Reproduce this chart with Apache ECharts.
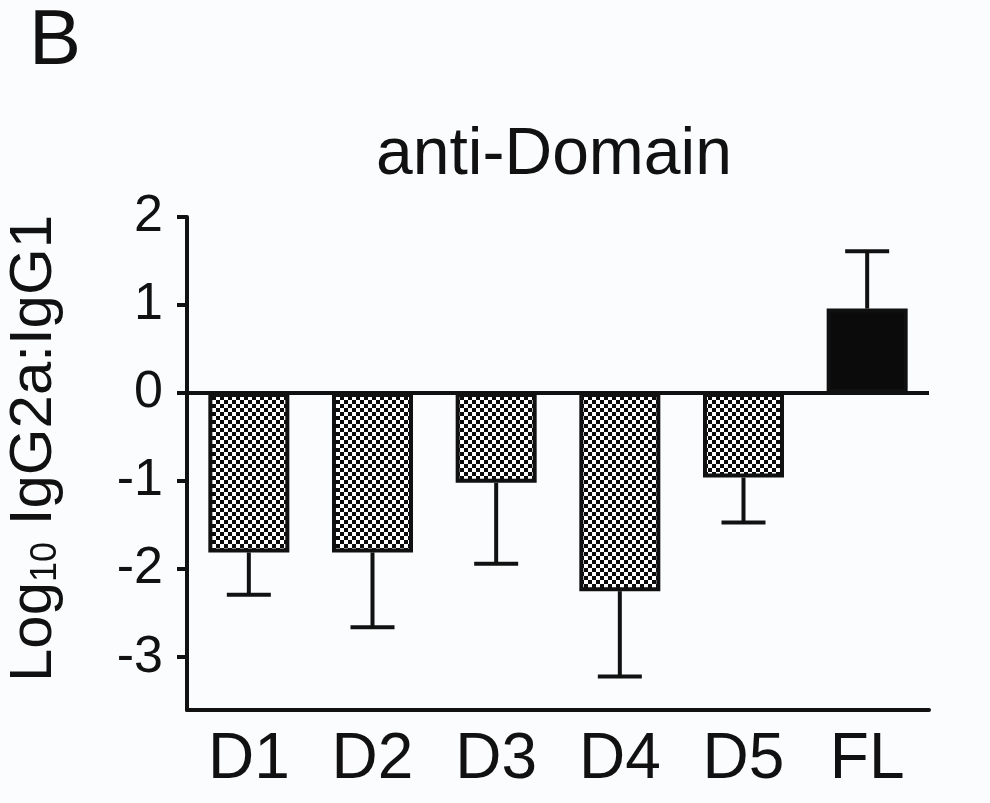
<!DOCTYPE html>
<html>
<head>
<meta charset="utf-8">
<script src="https://cdn.jsdelivr.net/npm/echarts@6/dist/echarts.min.js"></script>
<style>
html,body{margin:0;padding:0;background:#fbfcfd;}
#main{width:990px;height:803px;}
</style>
</head>
<body>
<div id="main"></div>
<script>
// bar groups
var categories = ['D1', 'D2', 'D3', 'D4', 'D5', 'FL'];
// mean log10 ratio
var means = [-1.81, -1.81, -1.02, -2.25, -0.96, 0.96];
// error bar length (one sided)
var errs = [0.48, 0.85, 0.92, 0.97, 0.51, 0.65];
var yTicks = [-3, -2, -1, 0, 1, 2];

var FONT = '"Liberation Sans", Arial, Helvetica, sans-serif';

function checker() {
    var c = document.createElement('canvas');
    c.width = 8;
    c.height = 8;
    var ctx = c.getContext('2d');
    ctx.fillStyle = '#ffffff';
    ctx.fillRect(0, 0, 8, 8);
    ctx.fillStyle = '#0c0c0c';
    ctx.fillRect(0, 0, 4, 4);
    ctx.fillRect(4, 4, 4, 4);
    return c;
}
var pat = { image: checker(), repeat: 'repeat' };

var barData = means.map(function (v, i) {
    return {
        value: v,
        itemStyle: { color: categories[i] === 'FL' ? '#0b0b0b' : pat }
    };
});
var errData = means.map(function (v, i) { return [i, v, errs[i]]; });

var chart = echarts.init(document.getElementById('main'));
chart.setOption({
    backgroundColor: '#fbfcfd',
    animation: false,
    title: [{
        text: 'B',
        left: 24,
        top: -2,
        textStyle: { fontFamily: FONT, fontSize: 78, fontWeight: 'normal', color: '#111' }
    }, {
        text: 'anti-Domain',
        left: 549,
        textAlign: 'center',
        top: 118,
        textStyle: { fontFamily: FONT, fontSize: 66, fontWeight: 'normal', color: '#111' }
    }],
    grid: { left: 187, right: 61, top: 217, bottom: 93, outerBoundsMode: 'none' },
    xAxis: {
        type: 'category',
        data: categories,
        axisLine: { onZero: false, lineStyle: { color: '#111', width: 4 } },
        axisTick: { alignWithLabel: true, length: 14, lineStyle: { color: '#111', width: 4 } },
        axisLabel: { fontFamily: FONT, fontSize: 64, color: '#111', margin: 18 }
    },
    yAxis: {
        type: 'value',
        min: -3.6,
        max: 2,
        name: '{m|Log}{s|10}{m| IgG2a:IgG1}',
        nameLocation: 'middle',
        nameGap: 123,
        nameTextStyle: {
            padding: [0, 0, 0, 30],
            rich: {
                m: { fontFamily: FONT, fontSize: 60, lineHeight: 60, color: '#111', verticalAlign: 'bottom' },
                s: { fontFamily: FONT, fontSize: 36, lineHeight: 30, color: '#111', verticalAlign: 'bottom' }
            }
        },
        splitLine: { show: false },
        axisLine: { show: true, lineStyle: { color: '#111', width: 4 } },
        axisTick: { show: true, length: 10, customValues: yTicks, lineStyle: { color: '#111', width: 4 } },
        axisLabel: { fontFamily: FONT, fontSize: 52, color: '#111', margin: 24, customValues: yTicks }
    },
    series: [{
        type: 'bar',
        data: barData,
        barWidth: 81,
        itemStyle: { borderColor: '#111', borderWidth: 4 },
        markLine: {
            silent: true,
            symbol: 'none',
            label: { show: false },
            lineStyle: { color: '#111', width: 4, type: 'solid' },
            data: [{ yAxis: 0 }]
        }
    }, {
        type: 'custom',
        data: errData,
        z: 3,
        renderItem: function (params, api) {
            var v = api.value(1), e = api.value(2);
            var tip = v >= 0 ? v + e : v - e;
            var p0 = api.coord([api.value(0), v]);
            var p1 = api.coord([api.value(0), tip]);
            var hw = 22;
            var st = { stroke: '#111', lineWidth: 4 };
            return {
                type: 'group',
                children: [
                    { type: 'line', shape: { x1: p0[0], y1: p0[1], x2: p1[0], y2: p1[1] }, style: st },
                    { type: 'line', shape: { x1: p1[0] - hw, y1: p1[1], x2: p1[0] + hw, y2: p1[1] }, style: st }
                ]
            };
        }
    }]
});
</script>
</body>
</html>
